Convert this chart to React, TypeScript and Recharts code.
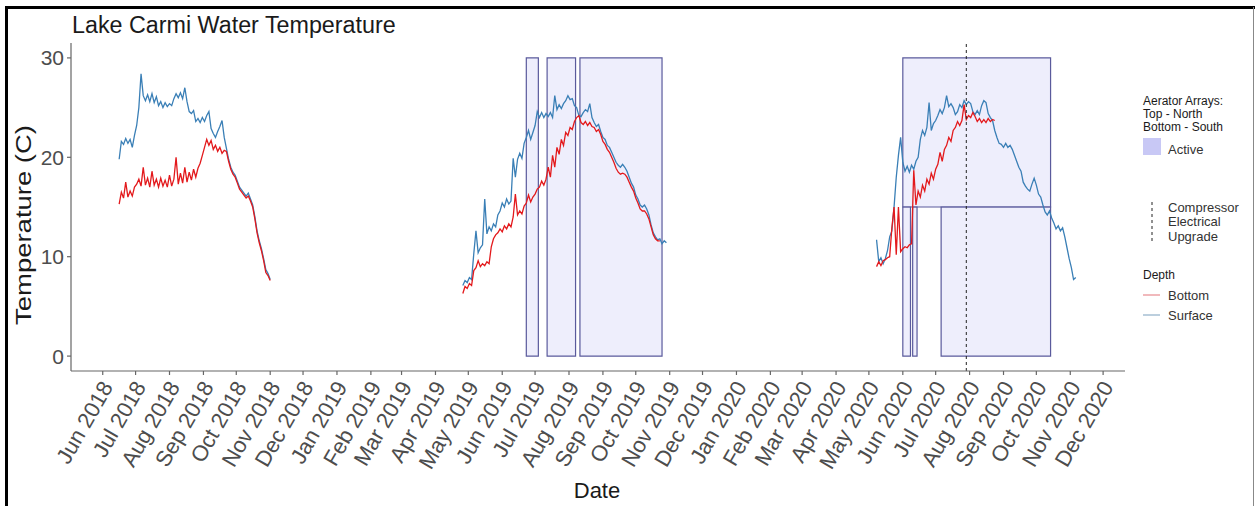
import { ComposedChart, Line, XAxis, YAxis, ReferenceArea, ReferenceLine } from 'recharts'

const DAY = 86400000
const utc = (s: string) => Date.parse(s + 'T00:00:00Z')

// readings every 2 days from each start date
const stepDays = 2

const start2018 = '2018-06-16'
const surface2018 = [
  19.8, 21.6, 21.3, 21.9, 21.4, 21.8, 21.0, 22.2, 23.2, 25.0,
  28.4, 26.2, 25.7, 26.3, 25.6, 26.4, 25.5, 26.1, 25.2, 25.6,
  25.0, 25.5, 25.1, 25.4, 25.2, 25.9, 26.4, 26.0, 26.5, 25.9,
  27.0, 25.6, 24.6, 24.4, 24.7, 23.6, 23.9, 23.5, 24.0, 23.6,
  24.2, 24.6, 22.9, 22.4, 22.0, 22.6, 23.1, 23.7, 22.0, 20.9,
  19.8, 19.0, 18.5, 18.2, 17.6, 17.0, 16.7, 16.4, 16.1, 16.4,
  15.8, 15.2, 14.0, 12.6, 11.6, 10.8, 9.8, 8.7, 8.3, 7.7,
]
const bottom2018 = [
  15.3, 16.5, 15.9, 17.5, 16.0, 16.6, 16.1, 17.0, 17.3, 17.8,
  17.1, 19.0, 17.2, 17.9, 17.0, 18.6, 17.2, 17.8, 17.0, 17.9,
  17.1, 17.7, 17.0, 18.2, 17.1, 17.8, 20.0, 17.3, 18.4, 17.4,
  19.0, 17.5, 18.5, 17.7, 18.8, 18.0, 18.9, 19.4, 20.2, 21.0,
  21.8, 21.2, 21.7, 20.8, 21.2, 20.6, 21.0, 20.4, 20.7, 20.6,
  19.6, 18.8, 18.3, 18.0, 17.4, 16.8, 16.5, 16.2, 15.9, 16.1,
  15.6, 15.0, 13.8, 12.4, 11.4, 10.6, 9.6, 8.4, 8.1, 7.6,
]

const start2019 = '2019-04-26'
const surface2019 = [
  7.1, 7.6, 7.4, 7.9, 7.7, 10.3, 12.6, 10.4, 10.9, 11.2,
  15.8, 12.3, 13.0, 12.6, 13.3, 13.0, 14.2, 14.6, 15.4, 15.0,
  15.8, 15.3, 15.6, 19.9, 18.0, 19.8, 20.4, 19.9, 21.4, 22.0,
  22.7, 21.8, 22.5, 23.2, 24.6, 24.0, 24.5, 24.0, 24.4, 24.1,
  24.5, 24.0, 26.2, 24.8, 25.3, 24.9, 25.4, 25.7, 26.2, 25.8,
  25.9, 25.2, 25.0, 24.2, 24.1, 24.5, 24.8, 24.6, 25.4, 24.0,
  23.5, 23.1, 23.3, 22.6, 22.0, 21.8, 21.2, 21.0, 20.5, 20.0,
  19.5, 19.2, 19.0, 19.3, 19.0, 18.6, 18.0, 17.4, 17.0, 16.2,
  15.8, 15.2, 15.0, 15.2, 14.8, 14.2, 13.2, 12.4, 12.0, 11.7,
  11.8, 11.3, 11.6, 11.4,
]
const bottom2019 = [
  6.3, 7.0, 6.8, 7.3, 7.1, 8.6, 8.9, 9.6, 9.0, 9.3,
  9.1, 9.5, 9.3, 11.0, 11.8, 12.2, 12.4, 12.8, 12.5, 13.1,
  12.8, 13.3, 13.0, 14.0, 16.3, 14.2, 14.6, 14.3, 15.1, 15.4,
  16.2, 15.5, 16.0, 16.3, 16.8, 17.0, 17.6, 17.2, 17.8, 19.0,
  18.0, 20.2, 19.0, 21.0, 20.3, 21.8, 21.2, 22.5, 22.2, 23.0,
  22.8, 23.6, 24.0, 24.2, 23.5, 23.3, 23.6, 23.2, 23.5, 23.1,
  23.0, 22.6, 22.8, 22.3, 21.6, 21.3, 20.8, 20.5, 20.0, 19.5,
  18.9, 18.5, 18.3, 18.4, 18.3, 18.0, 17.5, 17.0, 16.6, 15.9,
  15.4, 14.8, 14.6, 14.6, 14.3, 13.8, 13.0, 12.2, 11.8, 11.6,
  11.6,
]

const start2020 = '2020-05-08'
const surface2020 = [
  11.7, 9.5, 9.9, 9.3, 9.8, 10.6, 12.0, 12.6, 15.0, 18.0,
  20.2, 22.0, 19.5, 18.6, 19.1, 18.5, 19.2, 18.8, 19.6, 20.0,
  21.8, 22.7, 22.2, 23.0, 25.5, 22.7, 23.4, 23.7, 24.2, 24.8,
  24.4, 25.0, 26.2, 25.1, 25.4, 25.0, 24.3, 24.6, 25.3, 25.0,
  25.7, 25.3, 25.6, 25.4, 24.6, 24.3, 24.7, 24.3, 25.2, 25.7,
  25.5, 24.4, 24.0, 23.7, 22.7, 22.0, 21.4, 21.3, 21.0, 21.4,
  21.0, 21.2, 20.8, 20.2, 19.6, 19.0, 18.6, 17.5, 17.1, 16.8,
  16.6, 17.3, 17.9, 17.2, 16.3, 16.0, 15.2, 14.5, 14.2, 14.6,
  13.9, 13.4, 12.8, 13.1, 12.6, 12.9, 12.0, 10.9, 9.8, 8.9,
  7.7, 7.9,
]
const bottom2020 = [
  9.0, 9.5, 9.1, 9.6, 9.7, 9.9, 10.0, 12.9, 15.0, 10.2,
  15.0, 10.5, 10.8, 11.0, 10.9, 11.2, 11.3, 18.7, 15.2, 16.6,
  16.0, 17.2, 16.6, 17.8, 17.3, 18.4, 17.8, 18.8, 19.3, 20.5,
  19.6, 20.8, 21.2, 22.0, 21.6, 22.7, 23.0, 23.6, 23.2, 23.7,
  25.3, 23.8, 24.2, 24.0, 24.5, 24.1, 23.6, 23.9, 23.5, 23.8,
  23.5, 23.9, 23.6, 23.8, 23.7,
]

// aerator array active periods (top = North 15-30, bottom = South 0-15)
const aeratorStart = ['2019-06-23', '2019-07-12', '2019-08-11', '2020-06-01', '2020-06-01', '2020-06-10', '2020-07-06']
const aeratorEnd = ['2019-07-04', '2019-08-07', '2019-10-25', '2020-10-14', '2020-06-08', '2020-06-14', '2020-10-14']
const aeratorLow = [0, 0, 0, 15, 0, 0, 0]
const aeratorHigh = [30, 30, 30, 30, 15, 15, 15]

const compressorUpgrade = '2020-07-29'

const monthTicks = [
  '2018-06-01', '2018-07-01', '2018-08-01', '2018-09-01', '2018-10-01', '2018-11-01', '2018-12-01',
  '2019-01-01', '2019-02-01', '2019-03-01', '2019-04-01', '2019-05-01', '2019-06-01', '2019-07-01',
  '2019-08-01', '2019-09-01', '2019-10-01', '2019-11-01', '2019-12-01', '2020-01-01', '2020-02-01',
  '2020-03-01', '2020-04-01', '2020-05-01', '2020-06-01', '2020-07-01', '2020-08-01', '2020-09-01',
  '2020-10-01', '2020-11-01', '2020-12-01',
]
const monthNames = ['Jan', 'Feb', 'Mar', 'Apr', 'May', 'Jun', 'Jul', 'Aug', 'Sep', 'Oct', 'Nov', 'Dec']
const yTicks = [0, 10, 20, 30]
const xRange = ['2018-05-03', '2020-12-21']
const yRange = [-1.5, 31.5]

const toSeries = (start: string, values: number[]) =>
  values.map((v, i) => ({ t: utc(start) + i * stepDays * DAY, v }))

const FONT = '"Liberation Sans", Arial, sans-serif'
const SURFACE = '#3a7fb6'
const BOTTOM = '#e3191c'

const series = [
  { key: 's18', data: toSeries(start2018, surface2018), color: SURFACE },
  { key: 'b18', data: toSeries(start2018, bottom2018), color: BOTTOM },
  { key: 's19', data: toSeries(start2019, surface2019), color: SURFACE },
  { key: 'b19', data: toSeries(start2019, bottom2019), color: BOTTOM },
  { key: 's20', data: toSeries(start2020, surface2020), color: SURFACE },
  { key: 'b20', data: toSeries(start2020, bottom2020), color: BOTTOM },
]

function XTick({ x, y, payload }: any) {
  const d = new Date(payload.value)
  const label = `${monthNames[d.getUTCMonth()]} ${d.getUTCFullYear()}`
  const ax = x + 11
  const ay = y + 12
  return (
    <text x={ax} y={ay} transform={`rotate(-60 ${ax} ${ay})`} textAnchor="end"
      fontSize={22} fill="#4d4d4d" fontFamily={FONT}>
      {label}
    </text>
  )
}

export default function App() {
  return (
    <div style={{ position: 'absolute', left: 0, top: 0, width: 1255, height: 506, background: '#fff', fontFamily: FONT }}>
      <ComposedChart width={1255} height={506} margin={{ top: 43, right: 130, bottom: 0, left: 0 }}>
        <XAxis
          type="number"
          dataKey="t"
          domain={[utc(xRange[0]), utc(xRange[1])]}
          ticks={monthTicks.map(utc)}
          interval={0}
          tick={<XTick />}
          height={135}
          stroke="#666"
          strokeWidth={1.2}
          tickSize={4}
          tickMargin={0}
          allowDataOverflow
        />
        <YAxis
          type="number"
          dataKey="v"
          domain={yRange}
          ticks={yTicks}
          interval={0}
          width={71}
          stroke="#666"
          strokeWidth={1.2}
          tickSize={4}
          tickMargin={3}
          tick={{ fontSize: 21, fill: '#4d4d4d', fontFamily: FONT }}
          allowDataOverflow
        />
        {series.map(s => (
          <Line
            key={s.key}
            data={s.data}
            dataKey="v"
            type="linear"
            stroke={s.color}
            strokeWidth={1.3}
            dot={false}
            activeDot={false}
            isAnimationActive={false}
          />
        ))}
        {aeratorStart.map((s, i) => (
          <ReferenceArea
            key={`a${i}`}
            x1={utc(s)}
            x2={utc(aeratorEnd[i])}
            y1={aeratorLow[i]}
            y2={aeratorHigh[i]}
            fill="#c8c8f5"
            fillOpacity={0.3}
            stroke="#5a5a9c"
            strokeWidth={1.2}
          />
        ))}
        <ReferenceLine x={utc(compressorUpgrade)} stroke="#222" strokeDasharray="3 3" strokeWidth={1} />
      </ComposedChart>

      <svg width={1255} height={506} style={{ position: 'absolute', left: 0, top: 0, pointerEvents: 'none' }}>
        <line x1={5} y1={7.5} x2={1255} y2={7.5} stroke="#000" strokeWidth={3} />
        <line x1={6.5} y1={6} x2={6.5} y2={506} stroke="#000" strokeWidth={3} />
        <line x1={1253.5} y1={7} x2={1253.5} y2={506} stroke="#888" strokeWidth={1} />

        <text x={72} y={33} fontSize={23.3} fill="#1a1a1a" fontFamily={FONT}>Lake Carmi Water Temperature</text>
        <text x={31} y={225} transform="rotate(-90 31 225)" textAnchor="middle" fontSize={22}
          textLength={200} lengthAdjust="spacingAndGlyphs" fill="#1a1a1a" fontFamily={FONT}>Temperature (C)</text>
        <text x={597} y={498} textAnchor="middle" fontSize={22} fill="#1a1a1a" fontFamily={FONT}>Date</text>

        <g fontFamily={FONT} fill="#1a1a1a">
          <text x={1143} y={104.5} fontSize={12}>Aerator Arrays:</text>
          <text x={1143} y={118} fontSize={12}>Top - North</text>
          <text x={1143} y={131} fontSize={12}>Bottom - South</text>
          <rect x={1143} y={138} width={18} height={17} fill="#c8c8f5" />
          <text x={1168} y={153.5} fontSize={13} fill="#333">Active</text>

          <line x1={1152} y1={202} x2={1152} y2={243} stroke="#222" strokeDasharray="3 3" strokeWidth={1} />
          <text x={1168} y={211.5} fontSize={13} fill="#333">Compressor</text>
          <text x={1168} y={226} fontSize={13} fill="#333">Electrical</text>
          <text x={1168} y={240.5} fontSize={13} fill="#333">Upgrade</text>

          <text x={1143} y={278.5} fontSize={12}>Depth</text>
          <line x1={1143} y1={295} x2={1160} y2={295} stroke="#e88a90" strokeWidth={1.2} />
          <text x={1168} y={299.5} fontSize={13} fill="#333">Bottom</text>
          <line x1={1143} y1={315} x2={1160} y2={315} stroke="#8fb0c8" strokeWidth={1.2} />
          <text x={1168} y={319.5} fontSize={13} fill="#333">Surface</text>
        </g>
      </svg>
    </div>
  )
}
